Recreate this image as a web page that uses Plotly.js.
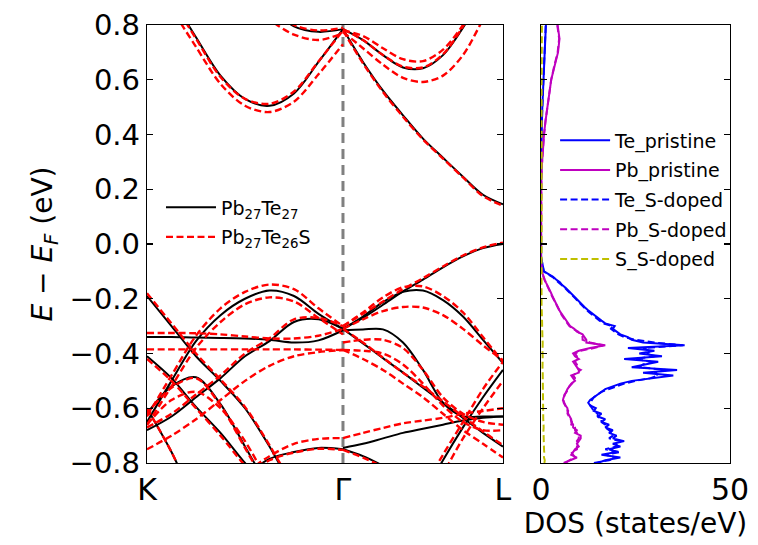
<!DOCTYPE html>
<html>
<head>
<meta charset="utf-8">
<script src="https://cdn.plot.ly/plotly-3.0.1.min.js"></script>
<style>html,body{margin:0;padding:0;background:#fff;}#chart{width:758px;height:545px;}</style>
</head>
<body>
<div id="chart"></div>
<script>
// ---------- k-path ----------
const kTickVals = [0, 1.0607, 1.9267];
const kTickText = ['K', 'Γ', 'L'];
const kLeft  = [0, 0.1326, 0.2652, 0.3978, 0.5303, 0.6629, 0.7955, 0.9281, 1.0607];
const kRight = [1.0607, 1.1690, 1.2772, 1.3855, 1.4937, 1.6020, 1.7102, 1.8185, 1.9267];

// ---------- pristine Pb27Te27 bands (eV), K->Γ ----------
const bL1 = [1.05, 0.90, 0.755, 0.615, 0.53, 0.505, 0.55, 0.665, 0.785];
const bL2 = [1.6, 1.4, 1.25, 1.1, 0.97, 0.87, 0.795, 0.775, 0.785];
const bL3 = [-0.65, -0.50, -0.355, -0.26, -0.20, -0.17, -0.19, -0.255, -0.31];
const bL4 = [-0.68, -0.63, -0.56, -0.49, -0.41, -0.355, -0.285, -0.275, -0.31];
const bL5 = [-0.34, -0.34, -0.342, -0.343, -0.345, -0.35, -0.36, -0.352, -0.315];
const bL6 = [-0.19, -0.30, -0.41, -0.50, -0.60, -0.74, -0.90, -1.05, -1.20];
const bL7 = [-0.62, -0.52, -0.487, -0.585, -0.74, -0.90, -1.10, -1.30, -1.50];
const bL8 = [-0.41, -0.49, -0.595, -0.69, -0.80, -0.90, -1.00, -1.10, -1.20];
const bL9 = [-1.50, -1.30, -1.10, -0.95, -0.85, -0.785, -0.76, -0.745, -0.75];
const bL10 = [-0.60, -0.76, -0.95, -1.1, -1.2, -1.3, -1.4, -1.5, -1.6];
// Γ->L
const bR1 = [0.785, 0.665, 0.56, 0.47, 0.385, 0.315, 0.246, 0.18, 0.145];
const bR2 = [0.785, 0.745, 0.69, 0.645, 0.642, 0.69, 0.79, 0.92, 1.05];
const bR3 = [-0.31, -0.27, -0.222, -0.173, -0.13, -0.085, -0.045, -0.015, 0.0];
const bR4 = [-0.31, -0.265, -0.212, -0.175, -0.17, -0.205, -0.265, -0.35, -0.435];
const bR5 = [-0.315, -0.312, -0.312, -0.36, -0.46, -0.58, -0.63, -0.63, -0.63];
const bR6 = [-0.31, -0.363, -0.417, -0.47, -0.525, -0.58, -0.635, -0.69, -0.74];
const bR7 = [-0.745, -0.73, -0.71, -0.69, -0.675, -0.66, -0.645, -0.635, -0.63];
const bR8 = [-1.6, -1.45, -1.3, -1.1, -0.92, -0.79, -0.67, -0.56, -0.46];
const bR9 = [-0.75, -0.775, -0.81, -0.85, -0.9, -0.95, -1.0, -1.05, -1.1];

// ---------- S-doped Pb27Te26S bands (eV), K->Γ ----------
const rL1 = [1.04, 0.895, 0.75, 0.61, 0.53, 0.512, 0.557, 0.667, 0.78];
const rL1b = [1.0, 0.86, 0.72, 0.585, 0.505, 0.482, 0.52, 0.62, 0.73];
const rL2 = [1.5, 1.3, 1.15, 1.0, 0.9, 0.82, 0.765, 0.745, 0.77];
const rL2b = [1.6, 1.4, 1.25, 1.1, 0.97, 0.87, 0.8, 0.78, 0.79];
const rL3 = [-0.63, -0.48, -0.335, -0.235, -0.175, -0.148, -0.165, -0.235, -0.30];
const rL3b = [-0.66, -0.52, -0.38, -0.285, -0.22, -0.195, -0.21, -0.27, -0.33];
const rL4 = [-0.67, -0.62, -0.55, -0.48, -0.40, -0.345, -0.275, -0.27, -0.30];
const rL4b = [-0.75, -0.70, -0.64, -0.57, -0.50, -0.445, -0.41, -0.395, -0.387];
const rL5 = [-0.325, -0.325, -0.326, -0.33, -0.338, -0.345, -0.345, -0.335, -0.31];
const rL5b = [-0.385, -0.385, -0.385, -0.385, -0.385, -0.385, -0.385, -0.386, -0.387];
const rL6 = [-0.18, -0.29, -0.40, -0.495, -0.595, -0.735, -0.89, -1.04, -1.20];
const rL7 = [-0.62, -0.525, -0.49, -0.59, -0.745, -0.905, -1.10, -1.30, -1.50];
const rL7b = [-0.66, -0.57, -0.54, -0.60, -0.72, -0.88, -1.05, -1.20, -1.40];
const rL8 = [-0.42, -0.50, -0.60, -0.70, -0.81, -0.91, -1.01, -1.11, -1.21];
const rL9 = [-1.50, -1.30, -1.10, -0.93, -0.84, -0.775, -0.73, -0.712, -0.709];
const rL9b = [-1.50, -1.30, -1.10, -0.95, -0.85, -0.79, -0.762, -0.748, -0.752];
const rL10 = [-0.60, -0.76, -0.95, -1.1, -1.2, -1.3, -1.4, -1.5, -1.6];
// Γ->L
const rR1 = [0.78, 0.66, 0.555, 0.465, 0.382, 0.312, 0.243, 0.175, 0.14];
const rR2 = [0.78, 0.76, 0.715, 0.675, 0.668, 0.71, 0.8, 0.92, 1.05];
const rR2b = [0.775, 0.715, 0.655, 0.607, 0.592, 0.615, 0.69, 0.82, 0.95];
const rR2c = [0.785, 0.745, 0.69, 0.648, 0.645, 0.693, 0.795, 0.93, 1.06];
const rR3 = [-0.30, -0.255, -0.21, -0.165, -0.125, -0.082, -0.042, -0.012, 0.005];
const rR4 = [-0.30, -0.25, -0.195, -0.158, -0.155, -0.19, -0.25, -0.34, -0.43];
const rR4b = [-0.31, -0.275, -0.245, -0.23, -0.232, -0.26, -0.31, -0.37, -0.425];
const rR5 = [-0.36, -0.35, -0.35, -0.38, -0.46, -0.56, -0.62, -0.65, -0.66];
const rR5b = [-0.387, -0.39, -0.40, -0.44, -0.51, -0.59, -0.65, -0.68, -0.68];
const rR6 = [-0.31, -0.36, -0.415, -0.47, -0.52, -0.575, -0.63, -0.685, -0.735];
const rR6b = [-0.387, -0.42, -0.46, -0.51, -0.56, -0.62, -0.68, -0.73, -0.78];
const rR7 = [-0.709, -0.69, -0.672, -0.655, -0.645, -0.635, -0.62, -0.61, -0.60];
const rR8 = [-1.6, -1.45, -1.3, -1.1, -0.90, -0.77, -0.65, -0.53, -0.43];
const rR8b = [-1.7, -1.5, -1.35, -1.15, -0.97, -0.84, -0.71, -0.6, -0.5];
const rR9 = [-0.752, -0.78, -0.815, -0.86, -0.91, -0.96, -1.01, -1.06, -1.11];

const pristineLeft = [bL1, bL2, bL3, bL4, bL5, bL6, bL7, bL8, bL9, bL10];
const pristineRight = [bR1, bR2, bR3, bR4, bR5, bR6, bR7, bR8, bR9];
const dopedLeft = [rL1, rL1b, rL2, rL2b, rL3, rL3b, rL4, rL4b, rL5, rL5b, rL6, rL7, rL7b, rL8, rL9, rL9b, rL10];
const dopedRight = [rR1, rR2, rR2b, rR2c, rR3, rR4, rR4b, rR5, rR5b, rR6, rR6b, rR7, rR8, rR8b, rR9];

// ---------- DOS (states/eV) ----------
const dosEnergy = [
 -0.80,-0.79,-0.78,-0.77,-0.76,-0.75,-0.74,-0.73,-0.72,-0.71,
 -0.70,-0.69,-0.68,-0.67,-0.66,-0.65,-0.64,-0.63,-0.62,-0.61,
 -0.60,-0.59,-0.58,-0.57,-0.56,-0.55,-0.54,-0.53,-0.52,-0.51,
 -0.50,-0.49,-0.48,-0.47,-0.46,-0.45,-0.44,-0.43,-0.42,-0.41,
 -0.40,-0.39,-0.38,-0.37,-0.36,-0.35,-0.34,-0.33,-0.32,-0.31,
 -0.30,-0.29,-0.28,-0.27,-0.26,-0.25,-0.24,-0.23,-0.22,-0.21,
 -0.20,-0.19,-0.18,-0.17,-0.16,-0.15,-0.14,-0.13,-0.12,-0.11,
 -0.10,-0.05,0.00,0.05,0.10,0.15,0.20,0.25,0.30,0.35,
 0.40,0.45,0.50,0.55,0.60,0.65,0.70,0.75,0.80];
const tePristine = [
 15,17,21,16,20,18,21,19,22,19,
 20,18,19,17,18,16,17,15,16,14,
 14.5,13,12.5,13,14,15,16,17,19,21,
 24,30,35,27,36,24,28,31,22,32,
 26,30,23,38,27,24,23,21,20,19,
 19.5,17,16,15,14,13,12.3,11.5,10.8,10,
 9.4,8.6,8,7.2,6.5,5.6,5,4,3.2,2,
 0.8,0.05,0,0,0,0,0,0.02,0.05,0.1,
 0.15,0.25,0.35,0.5,0.7,0.9,1.0,1.15,1.3];
const pbPristine = [
 6,8,9.5,8,8.5,9,10,9.5,10,10.5,
 10.5,9,9.5,8.5,8.5,8,8,7.5,7.2,7,
 7,6.5,6.2,5.8,6,6.3,6.5,7,7.5,8,
 9,8.5,8,10,10,9.5,9,8.5,10,9,
 8.5,10,13,17,12,12,11.5,11,9.5,8.8,
 7.7,7.2,6.5,6.1,5.6,5.2,4.8,4.4,4,3.6,
 3.3,3.0,2.7,2.3,2.0,1.7,1.3,1.0,0.8,0.5,
 0.2,0,0,0,0,0,0,0.1,0.3,0.5,
 0.8,1.2,1.7,2.2,2.7,3.6,4.5,4.9,4.4];
const teDoped = [
 14,18,20,17,21,17,20,20,21,18,
 19,19,18,17,17,16,16,15,15,14,
 13.5,13,13,13.5,14,15,16,18,20,22,
 25,29,31,30,33,26,27,29,25,30,
 28,29,27,37.5,30,25,22,20.5,19.5,18.5,
 19,16.5,15.5,14.5,13.5,12.8,12,11.2,10.5,9.8,
 9.2,8.4,7.8,7,6.3,5.5,4.8,3.8,3,1.8,
 0.7,0.05,0,0,0,0,0,0.02,0.05,0.1,
 0.15,0.25,0.35,0.5,0.65,0.85,1.0,1.1,1.25];
const pbDoped = [
 6.5,7.5,9,8.5,8,9.5,9.5,10,9.5,10,
 10,9.5,9,9,8,8.2,7.8,7.5,7,7.2,
 6.8,6.6,6,6,6.2,6.2,6.8,7.2,7.5,8.2,
 8.5,9,8.5,9.5,10.5,9,9.5,9,9.5,9.5,
 9,10.5,14,16.5,13,11,11,10.5,9.8,8.5,
 7.5,7,6.4,6,5.5,5.1,4.7,4.3,3.9,3.5,
 3.2,2.9,2.6,2.2,1.9,1.6,1.2,0.9,0.7,0.4,
 0.15,0,0,0,0,0,0,0.1,0.3,0.5,
 0.8,1.2,1.7,2.2,2.7,3.5,4.4,4.8,4.3];
const sDoped = [
 0.9,1.0,0.8,0.9,0.85,0.8,0.75,0.8,0.7,0.75,
 0.7,0.7,0.65,0.7,0.6,0.65,0.6,0.6,0.55,0.6,
 0.55,0.5,0.55,0.5,0.5,0.5,0.45,0.5,0.45,0.45,
 0.45,0.5,0.45,0.5,0.45,0.4,0.45,0.4,0.4,0.45,
 0.4,0.45,0.5,0.55,0.45,0.4,0.35,0.35,0.35,0.3,
 0.3,0.3,0.25,0.25,0.25,0.2,0.2,0.2,0.15,0.15,
 0.15,0.12,0.1,0.1,0.08,0.07,0.06,0.05,0.04,0.03,
 0.02,0,0,0,0,0,0,0.02,0.04,0.06,
 0.08,0.1,0.12,0.14,0.16,0.18,0.2,0.22,0.25];

const energyTicks = [-0.8, -0.6, -0.4, -0.2, 0.0, 0.2, 0.4, 0.6, 0.8];
const energyTickText = ['\u22120.8', '\u22120.6', '\u22120.4', '\u22120.2', '0.0', '0.2', '0.4', '0.6', '0.8'];

// ---------- traces ----------
const FONT = 'DejaVu Sans, Liberation Sans, sans-serif';
const traces = [];
function band(x, y, color, dash, width, name, group, show) {
  traces.push({
    x: x, y: y, type: 'scatter', mode: 'lines', xaxis: 'x', yaxis: 'y',
    line: {color: color, dash: dash, width: width, shape: 'spline', smoothing: 0.9},
    name: name, showlegend: show, legend: 'legend', legendgroup: group, hoverinfo: 'skip'
  });
}
const nameP = 'Pb<sub>27</sub>Te<sub>27</sub>';
const nameD = 'Pb<sub>27</sub>Te<sub>26</sub>S';
pristineLeft.forEach((b, i) => band(kLeft, b, '#000000', 'solid', 2, nameP, 'p', i === 0));
pristineRight.forEach(b => band(kRight, b, '#000000', 'solid', 2, nameP, 'p', false));
dopedLeft.forEach((b, i) => band(kLeft, b, '#ff0000', '7px,3.5px', 2.4, nameD, 'd', i === 0));
dopedRight.forEach(b => band(kRight, b, '#ff0000', '7px,3.5px', 2.4, nameD, 'd', false));

function dos(x, name, color, dash) {
  traces.push({
    x: x, y: dosEnergy, type: 'scatter', mode: 'lines', xaxis: 'x2', yaxis: 'y2',
    line: {color: color, dash: dash, width: 2},
    name: name, legend: 'legend2', legendgroup: name, showlegend: true, hoverinfo: 'skip'
  });
}
dos(tePristine, 'Te_pristine', '#0000ff', 'solid');
dos(pbPristine, 'Pb_pristine', '#bf00bf', 'solid');
dos(teDoped, 'Te_S-doped', '#0000ff', '7px,3.5px');
dos(pbDoped, 'Pb_S-doped', '#bf00bf', '7px,3.5px');
dos(sDoped, 'S_S-doped', '#bfbf00', '7px,3.5px');

const layout = {
  width: 758, height: 545,
  margin: {l: 147, r: 28, t: 25, b: 82},
  paper_bgcolor: '#ffffff', plot_bgcolor: '#ffffff',
  font: {family: FONT, color: '#000000'},
  xaxis: {
    domain: [0, 0.6106], range: [0, 1.9267], anchor: 'y',
    tickvals: kTickVals, ticktext: kTickText, ticks: '',
    tickfont: {size: 30, family: FONT}, showgrid: false, zeroline: false,
    showline: true, mirror: true, linecolor: '#000', linewidth: 1.2
  },
  yaxis: {
    range: [-0.8, 0.8], anchor: 'x',
    tickvals: energyTicks, ticktext: energyTickText,
    ticks: 'inside', ticklen: 6, tickwidth: 1.2, tickcolor: '#000',
    tickfont: {size: 29, family: FONT}, showgrid: false, zeroline: false,
    showline: true, mirror: 'ticks', linecolor: '#000', linewidth: 1.2,
    title: {text: '<i>E</i> \u2212 <i>E</i><sub><i>F</i></sub> (eV)', font: {size: 28, family: FONT}, standoff: 8}
  },
  xaxis2: {
    domain: [0.6758, 1], range: [0, 50], anchor: 'y2',
    tickvals: [0, 50], ticktext: ['0', '50'], ticks: '',
    tickfont: {size: 30, family: FONT}, showgrid: false, zeroline: false,
    showline: true, mirror: true, linecolor: '#000', linewidth: 1.2,
    title: {text: 'DOS (states/eV)', font: {size: 28, family: FONT}, standoff: 4}
  },
  yaxis2: {
    range: [-0.8, 0.8], anchor: 'x2',
    tickvals: energyTicks, showticklabels: false,
    ticks: 'inside', ticklen: 6, tickwidth: 1.2, tickcolor: '#000',
    showgrid: false, zeroline: false,
    showline: true, mirror: 'ticks', linecolor: '#000', linewidth: 1.2
  },
  shapes: [{
    type: 'line', xref: 'x', yref: 'y', x0: kTickVals[1], x1: kTickVals[1], y0: -0.8, y1: 0.8,
    line: {color: '#808080', width: 3, dash: '10px,6px'}, layer: 'below'
  }],
  legend: {
    x: 0.024, y: 0.627, xanchor: 'left', yanchor: 'top',
    bgcolor: 'rgba(0,0,0,0)', borderwidth: 0, itemwidth: 50,
    traceorder: 'grouped', tracegroupgap: 2,
    font: {size: 19, family: FONT}
  },
  legend2: {
    x: 0.70, y: 0.78, xanchor: 'left', yanchor: 'top',
    bgcolor: 'rgba(0,0,0,0)', borderwidth: 0, itemwidth: 50,
    traceorder: 'grouped', tracegroupgap: 2,
    font: {size: 19, family: FONT}
  },
  showlegend: true
};

Plotly.newPlot('chart', traces, layout, {displayModeBar: false, staticPlot: true});
</script>
</body>
</html>
